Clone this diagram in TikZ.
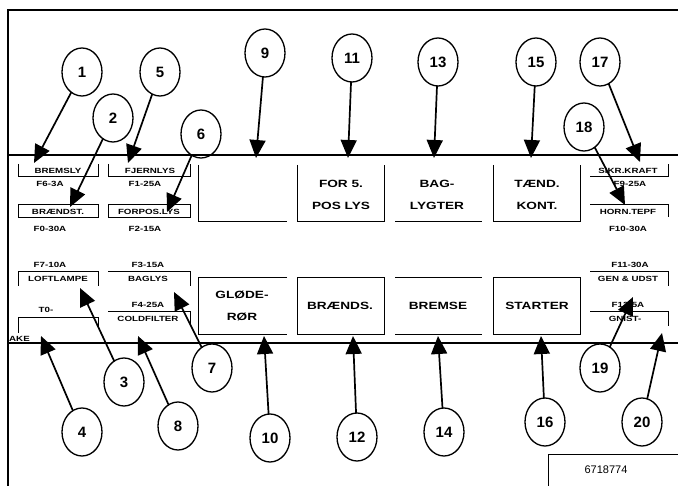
\documentclass[tikz,border=0pt]{standalone}
\usepackage{fontspec}
\setmainfont{Liberation Sans}
\newfontfamily\widefont[FakeStretch=1.3]{Liberation Sans}
\usetikzlibrary{shapes.geometric,arrows.meta}
\begin{document}
\begin{tikzpicture}[x=1pt,y=-1pt,
  num/.style={draw,line width=1.3pt,ellipse,minimum width=40pt,minimum height=48pt,inner sep=0pt,font=\fontsize{15}{15}\selectfont\bfseries},
  arr/.style={line width=1.7pt,-{Triangle[length=18pt,width=16pt]},shorten <=-1pt},
  big/.style={font=\widefont\fontsize{10.5}{22}\selectfont\bfseries,align=center,inner sep=0pt},
  small/.style={font=\widefont\fontsize{7.5}{8}\selectfont\bfseries,inner sep=0pt},
  ln/.style={line width=1pt},
  frame/.style={line width=2pt}]
\useasboundingbox (0,0) rectangle (678,486);
% frame
\draw[frame] (8,486) -- (8,10) -- (678,10);
\draw[line width=2.5pt] (8,155) -- (678,155);
\draw[line width=2.5pt] (8,343) -- (678,343);
% code box
\draw[line width=1pt] (548,486) -- (548,455) -- (678,455);
\node[font=\fontsize{11}{12}\selectfont] (code) at (606,470) {6718774};
% top row big boxes
\draw[ln] (198,165) -- (198,222) -- (287,222);
\draw[ln] (297,165) -- (297,222) -- (384,222) -- (384,165);
\node[big] (t11) at (341,195) {FOR 5.\\POS LYS};
\draw[ln] (395,222) -- (482,222);
\node[big] (t13) at (437,195) {BAG-\\LYGTER};
\draw[ln] (493,165) -- (493,222) -- (580,222) -- (580,165);
\node[big] (t15) at (537,195) {TÆND.\\KONT.};
% bottom row big boxes
\draw[ln] (287,278) -- (198,278) -- (198,335) -- (287,335);
\node[big] (t10) at (242,306) {GLØDE-\\RØR};
\draw[ln] (297,278) rectangle (384,335);
\node[big] (t12) at (340,306) {BRÆNDS.};
\draw[ln] (395,278) -- (482,278);
\draw[ln] (395,335) -- (482,335);
\node[big] (t14) at (438,306) {BREMSE};
\draw[ln] (493,278) rectangle (580,335);
\node[big] (t16) at (537,306) {STARTER};
% small left top
\draw[ln] (18,164) -- (18,177) -- (98,177) -- (98,164);
\node[small] (s1) at (58,171) {BREMSLY};
\node[small] (s1b) at (50,184) {F6-3A};
\draw[ln] (18,205) rectangle (98,218);
\node[small] (s2) at (58,211.5) {BRÆNDST.};
\node[small] (s2b) at (50,229) {F0-30A};
\draw[ln] (108,164) -- (108,177) -- (190,177) -- (190,164);
\node[small] (s5) at (150,171) {FJERNLYS};
\node[small] (s5b) at (145,184) {F1-25A};
\draw[ln] (108,205) rectangle (190,218);
\node[small] (s6) at (149,211.5) {FORPOS.LYS};
\node[small] (s6b) at (145,229) {F2-15A};
% small left bottom
\node[small] (s3a) at (50,265) {F7-10A};
\draw[ln] (18,286) -- (18,272) -- (98,272) -- (98,286);
\node[small] (s3) at (58,279) {LOFTLAMPE};
\node[small] (s4a) at (46,310) {T0-};
\draw[ln] (18,333) -- (18,318) -- (98,318) -- (98,326);
\node[small] (s7a) at (148,265) {F3-15A};
\draw[ln] (108,272) -- (190,272) -- (190,286);
\node[small] (s7) at (148,279) {BAGLYS};
\node[small] (s8a) at (148,305) {F4-25A};
\draw[ln] (108,312) -- (190,312) -- (190,326);
\node[small] (s8) at (148,319) {COLDFILTER};
% small right top
\draw[ln] (590,177) -- (668,177) -- (668,164);
\node[small] (s17) at (628,171) {SIKR.KRAFT};
\node[small] (s17b) at (630,184) {F9-25A};
\draw[ln] (590,205) -- (668,205) -- (668,217);
\node[small] (s18) at (628,211.5) {HORN.TEPF};
\node[small] (s18b) at (628,229) {F10-30A};
% small right bottom
\node[small] (s19a) at (630,265) {F11-30A};
\draw[ln] (590,272) -- (668,272) -- (668,286);
\node[small] (s19) at (628,279) {GEN \& UDST};
\node[small] (s20a) at (628,305) {F12-5A};
\draw[ln] (590,312) -- (668,312) -- (668,326);
\node[small] (s20) at (625,319) {GNIST-};
\node[small,anchor=west] (ake) at (9,339) {AKE};
% circles
\node[num] (c1) at (82,72) {1};
\node[num] (c2) at (113,118) {2};
\node[num] (c5) at (160,72) {5};
\node[num] (c6) at (201,134) {6};
\node[num] (c9) at (265,53) {9};
\node[num] (c11) at (352,58) {11};
\node[num] (c13) at (438,62) {13};
\node[num] (c15) at (536,62) {15};
\node[num] (c17) at (600,62) {17};
\node[num] (c18) at (584,127) {18};
\node[num] (c3) at (124,382) {3};
\node[num] (c4) at (82,432) {4};
\node[num] (c7) at (212,368) {7};
\node[num] (c8) at (178,426) {8};
\node[num] (c10) at (270,438) {10};
\node[num] (c12) at (357,437) {12};
\node[num] (c14) at (444,432) {14};
\node[num] (c16) at (545,422) {16};
\node[num] (c19) at (600,368) {19};
\node[num] (c20) at (642,422) {20};
% arrow targets
\coordinate (a1) at (34,163);
\coordinate (a2) at (70,207);
\coordinate (a5) at (128,163);
\coordinate (a6) at (167,212);
\coordinate (a9) at (256,158);
\coordinate (a11) at (348,158);
\coordinate (a13) at (434,158);
\coordinate (a15) at (531,158);
\coordinate (a17) at (640,162);
\coordinate (a18) at (625,205);
\coordinate (a3) at (80,288);
\coordinate (a4) at (41,336);
\coordinate (a7) at (174,292);
\coordinate (a8) at (138,336);
\coordinate (a10) at (264,336);
\coordinate (a12) at (353,336);
\coordinate (a14) at (438,336);
\coordinate (a16) at (541,336);
\coordinate (a19) at (633,297);
\coordinate (a20) at (662,333);
\foreach \n in {1,2,5,6,9,11,13,15,17,18,3,4,7,8,10,12,14,16,19,20}
  \draw[arr] (c\n) -- (a\n);
\end{tikzpicture}
\end{document}
